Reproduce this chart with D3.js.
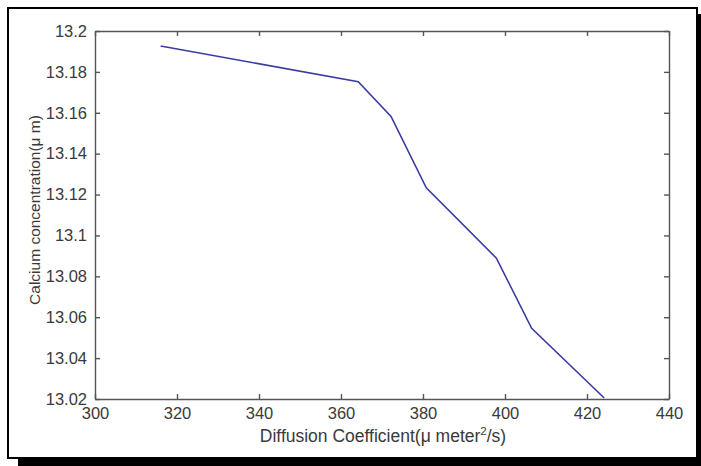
<!DOCTYPE html>
<html>
<head>
<meta charset="utf-8">
<script src="https://cdn.jsdelivr.net/npm/d3@7"></script>
<style>
  body { margin: 0; background: #fff; }
  svg { display: block; font-family: "Liberation Sans", Arial, sans-serif; }
</style>
</head>
<body>
<svg width="701" height="466"></svg>
<script>
// data
const diffusion = [316, 364.2, 372.2, 380.8, 397.9, 406.5, 424.2];
const calcium = [13.1927, 13.1752, 13.1582, 13.1233, 13.0889, 13.0546, 13.0205];
const xTicks = [300, 320, 340, 360, 380, 400, 420, 440];
const yTicks = [13.02, 13.04, 13.06, 13.08, 13.1, 13.12, 13.14, 13.16, 13.18, 13.2];

const w = 701, h = 466;
const padL = 95, padR = 669, padT = 31, padB = 399;
const axisCol = '#555', textCol = '#3a3a3a';

const svg = d3.select('svg');

// frame with drop shadow
svg.append('rect').attr('x', 18).attr('y', 14).attr('width', 683).attr('height', 452).attr('fill', '#000');
svg.append('rect').attr('x', 8).attr('y', 8).attr('width', 689).attr('height', 450)
  .attr('fill', '#fff').attr('stroke', '#000').attr('stroke-width', 2);

const xScale = d3.scaleLinear().domain([300, 440]).range([padL, padR]);
const yScale = d3.scaleLinear().domain([13.02, 13.2]).range([padB, padT]);

// axes (ticks pointing inward, mirrored on top and right)
const fmt = d => String(+d.toFixed(2));
const styleAxis = g => {
  g.select('.domain').attr('stroke', axisCol).attr('stroke-width', 1.4);
  g.selectAll('.tick line').attr('stroke', axisCol).attr('stroke-width', 1.4);
  g.selectAll('text').attr('fill', textCol).attr('font-size', 16.5);
};

svg.append('g').attr('transform', `translate(0,${padB})`)
  .call(d3.axisBottom(xScale).tickValues(xTicks).tickFormat(fmt).tickSizeInner(-5).tickSizeOuter(0).tickPadding(8))
  .call(styleAxis);
svg.append('g').attr('transform', `translate(0,${padT})`)
  .call(d3.axisTop(xScale).tickValues(xTicks).tickFormat('').tickSizeInner(-5).tickSizeOuter(0))
  .call(styleAxis);
svg.append('g').attr('transform', `translate(${padL},0)`)
  .call(d3.axisLeft(yScale).tickValues(yTicks).tickFormat(fmt).tickSizeInner(-5).tickSizeOuter(0).tickPadding(8))
  .call(styleAxis);
svg.append('g').attr('transform', `translate(${padR},0)`)
  .call(d3.axisRight(yScale).tickValues(yTicks).tickFormat('').tickSizeInner(-5).tickSizeOuter(0))
  .call(styleAxis);

// the curve
const pts = diffusion.map((d, i) => [d, calcium[i]]);
svg.append('path')
  .datum(pts)
  .attr('fill', 'none')
  .attr('stroke', '#3c3ca0')
  .attr('stroke-width', 1.6)
  .attr('d', d3.line().x(d => xScale(d[0])).y(d => yScale(d[1])));

// axis labels
const xl = svg.append('text')
  .attr('x', 383).attr('y', 442)
  .attr('text-anchor', 'middle').attr('font-size', 17.5).attr('fill', textCol);
xl.append('tspan').text('Diffusion Coefficient(μ meter');
xl.append('tspan').attr('font-size', 11.5).attr('dy', -7).text('2');
xl.append('tspan').attr('dy', 7).text('/s)');

svg.append('text')
  .attr('transform', `translate(40,210) rotate(-90)`)
  .attr('text-anchor', 'middle').attr('font-size', 15.5).attr('fill', textCol)
  .text('Calcium concentration(μ m)');
</script>
</body>
</html>
